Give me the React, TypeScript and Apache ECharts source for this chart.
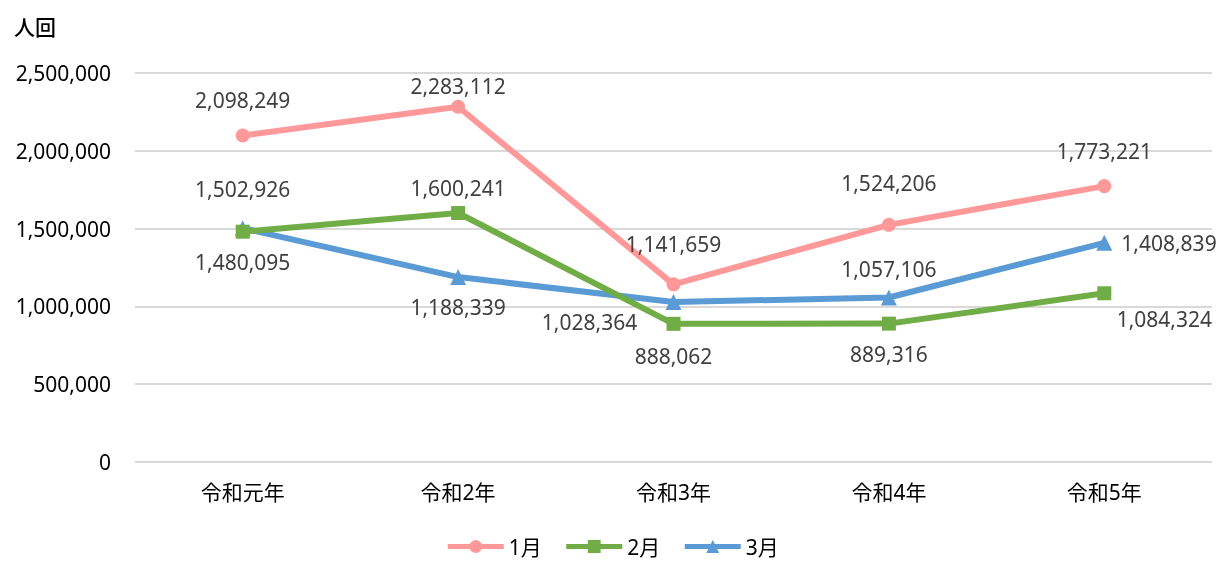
import React, { useEffect, useRef } from "react";
import * as echarts from "echarts";

const categories = ["令和元年", "令和2年", "令和3年", "令和4年", "令和5年"];
const seriesNames = ["1月", "2月", "3月"];
const jan = [2098249, 2283112, 1141659, 1524206, 1773221];
const feb = [1480095, 1600241, 888062, 889316, 1084324];
const mar = [1502926, 1188339, 1028364, 1057106, 1408839];
const yTicks = [0, 500000, 1000000, 1500000, 2000000, 2500000];

const FONT = "'Noto Sans', 'Noto Sans CJK JP', sans-serif";
const fmt = (v: number) => v.toLocaleString("en-US");

// label placement per point: [position, offsetX, offsetY]
const janLabels: [string, number, number][] = [
  ["top", 0, -8], ["top", 0, 7], ["top", 0, -13], ["top", 0, -14], ["top", 0, -8],
];
const febLabels: [string, number, number][] = [
  ["bottom", 0, 3], ["top", 0, 2], ["bottom", 0, 5], ["bottom", 0, 3], ["bottom", 60, -2],
];
const marLabels: [string, number, number][] = [
  ["top", 0, -11], ["bottom", 0, 1], ["bottom", -84, -8], ["top", 0, 0], ["right", -1, 0],
];

function buildData(vals: number[], labels: [string, number, number][]) {
  return vals.map((v, i) => ({
    value: v,
    label: { position: labels[i][0], offset: [labels[i][1], labels[i][2]] },
  }));
}

export default function App() {
  const ref = useRef<HTMLDivElement>(null);
  useEffect(() => {
    if (!ref.current) return;
    const chart = echarts.init(ref.current, undefined, { renderer: "svg" });
    const labelStyle = {
      show: true,
      color: "#404040",
      fontSize: 21,
      fontFamily: FONT,
      formatter: (p: any) => fmt(p.value),
      distance: 10,
    };
    const colors = ["#FF9999", "#70AD47", "#5B9BD5"];
    const symbols = ["circle", "rect", "triangle"];
    const datas = [buildData(jan, janLabels), buildData(feb, febLabels), buildData(mar, marLabels)];
    chart.setOption({
      animation: false,
      color: colors,
      textStyle: { fontFamily: FONT },
      grid: { left: 135, right: 12, top: 73, bottom: 99, containLabel: false },
      title: {
        text: "人回",
        left: 9,
        top: 11,
        textStyle: { fontSize: 21, fontWeight: 500, color: "#000", fontFamily: FONT },
      },
      legend: {
        top: 531,
        left: "center",
        itemWidth: 56,
        itemHeight: 16,
        itemGap: 22,
        lineStyle: { width: 5 },
        textStyle: { fontSize: 21, color: "#000", fontFamily: FONT },
        data: seriesNames,
      },
      xAxis: {
        type: "category",
        data: categories,
        axisLine: { show: false },
        axisTick: { show: false },
        axisLabel: { color: "#000", fontSize: 21, margin: 19, fontFamily: FONT },
      },
      yAxis: {
        type: "value",
        min: yTicks[0],
        max: yTicks[yTicks.length - 1],
        interval: yTicks[1] - yTicks[0],
        axisLine: { show: false },
        axisTick: { show: false },
        splitLine: { lineStyle: { color: "#D9D9D9", width: 2 } },
        axisLabel: { color: "#000", fontSize: 21, margin: 24, fontFamily: FONT, formatter: (v: number) => fmt(v) },
      },
      series: seriesNames.map((name, i) => ({
        name,
        type: "line",
        data: datas[i],
        symbol: symbols[i],
        symbolSize: i === 2 ? 16 : 14,
        lineStyle: { width: 6, color: colors[i] },
        itemStyle: { color: colors[i] },
        label: labelStyle,
        z: 3 - i,
      })),
    });
    return () => chart.dispose();
  }, []);
  return (
    <div
      ref={ref}
      style={{ position: "fixed", left: 0, top: 0, width: 1224, height: 561, overflow: "hidden" }}
    />
  );
}
